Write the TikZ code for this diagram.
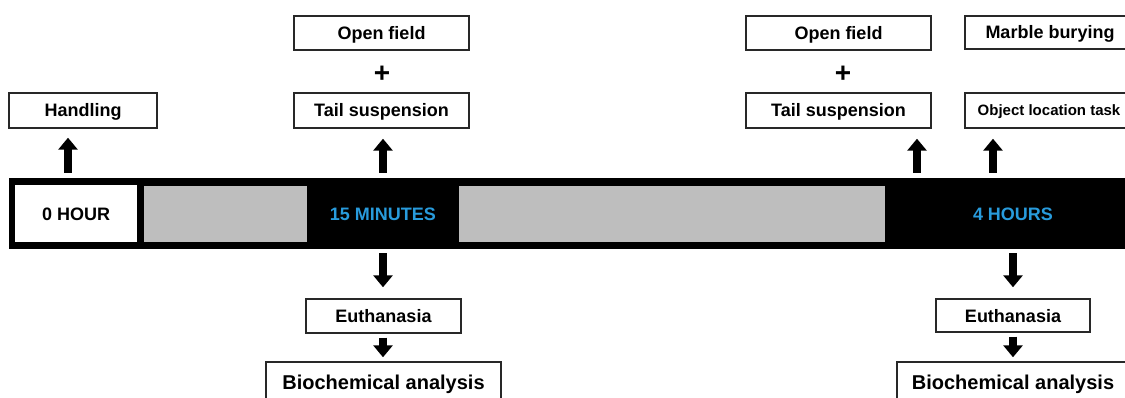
\documentclass[tikz,border=0pt]{standalone}
\usepackage{fontspec}
\setmainfont{Liberation Sans}
\usetikzlibrary{arrows.meta}
\definecolor{tblue}{RGB}{40,155,220}
\definecolor{tgray}{RGB}{190,190,190}
\definecolor{tline}{RGB}{40,40,40}
\begin{document}
\begin{tikzpicture}[x=1pt,y=-1pt,
  lbl/.style={draw=tline, line width=1.4pt, fill=white, inner sep=0pt,
    font=\bfseries\fontsize{18}{20}\selectfont, text height=13pt, text depth=0pt},
  plain/.style={inner sep=0pt, font=\bfseries\fontsize{18}{20}\selectfont, text height=13pt, text depth=0pt},
  plusfont/.style={inner sep=0pt, font=\bfseries\fontsize{28}{30}\selectfont},
  bigfont/.style={font=\bfseries\fontsize{20}{22}\selectfont, text height=14.3pt, text depth=0pt},
  smallfont/.style={font=\bfseries\fontsize{15}{17}\selectfont, text height=10.7pt, text depth=0pt},
  bigarrow/.style={line width=8pt, -{Triangle[length=12pt,width=19pt]}},
  smallarrow/.style={line width=8pt, -{Triangle[length=12pt,width=19pt]}},
  panel/.style={inner sep=0pt, anchor=north west}]
\useasboundingbox (0,0) rectangle (1125,398);
\clip (0,0) rectangle (1125,398);

% timeline bar
\node[panel, fill=black, minimum width=1130, minimum height=71] (bar) at (9,178) {};
\node[panel, fill=white, minimum width=122, minimum height=57] (h0box) at (15,185) {};
\node[plain] (h0) at (h0box.center) {0 HOUR};
\node[panel, fill=tgray, minimum width=163, minimum height=56] (g1) at (144,186) {};
\node[panel, fill=tgray, minimum width=426, minimum height=56] (g2) at (459,186) {};
\node[plain, text=tblue] (m15) at (383,214) {15 MINUTES};
\node[plain, text=tblue] (h4) at (1013,214) {4 HOURS};

% top boxes
\node[lbl, minimum width=148, minimum height=35] (handling) at (83,110.5) {Handling};
\node[lbl, minimum width=175, minimum height=34] (of1) at (381.5,33) {Open field};
\node[plusfont] (plus1) at (382,74) {+};
\node[lbl, minimum width=175, minimum height=35] (ts1) at (381.5,110.5) {Tail suspension};
\node[lbl, minimum width=185, minimum height=34] (of2) at (838.5,33) {Open field};
\node[plusfont] (plus2) at (843,74) {+};
\node[lbl, minimum width=185, minimum height=35] (ts2) at (838.5,110.5) {Tail suspension};
\node[lbl, minimum width=170, minimum height=33] (mb) at (1050,32.5) {Marble burying};
\node[lbl, smallfont, minimum width=168, minimum height=35] (ol) at (1049,110.5) {Object location task};

% bottom boxes
\node[lbl, minimum width=155, minimum height=34] (eu1) at (383.5,316) {Euthanasia};
\node[lbl, bigfont, minimum width=235, minimum height=40] (bio1) at (383.5,382) {Biochemical analysis};
\node[lbl, minimum width=154, minimum height=33] (eu2) at (1013,315.5) {Euthanasia};
\node[lbl, bigfont, minimum width=232, minimum height=40] (bio2) at (1013,382) {Biochemical analysis};

% arrow columns
\coordinate (xa) at (68,0);
\coordinate (xb) at (383,0);
\coordinate (xc) at (917,0);
\coordinate (xd) at (993,0);
\coordinate (xe) at (1013,0);

% up arrows
\draw[bigarrow, shorten <=5pt, shorten >=9pt] (bar.north -| xa) -- (handling.south -| xa);
\draw[bigarrow, shorten <=5pt, shorten >=10pt] (bar.north -| xb) -- (ts1.south -| xb);
\draw[bigarrow, shorten <=5pt, shorten >=10pt] (bar.north -| xc) -- (ts2.south -| xc);
\draw[bigarrow, shorten <=5pt, shorten >=10pt] (bar.north -| xd) -- (ol.south -| xd);

% down arrows
\draw[bigarrow, shorten <=4pt, shorten >=11pt] (bar.south -| xb) -- (eu1.north -| xb);
\draw[smallarrow, shorten <=4pt, shorten >=4pt] (eu1.south -| xb) -- (bio1.north -| xb);
\draw[bigarrow, shorten <=4pt, shorten >=11pt] (bar.south -| xe) -- (eu2.north -| xe);
\draw[smallarrow, shorten <=4pt, shorten >=4pt] (eu2.south -| xe) -- (bio2.north -| xe);
\end{tikzpicture}
\end{document}
